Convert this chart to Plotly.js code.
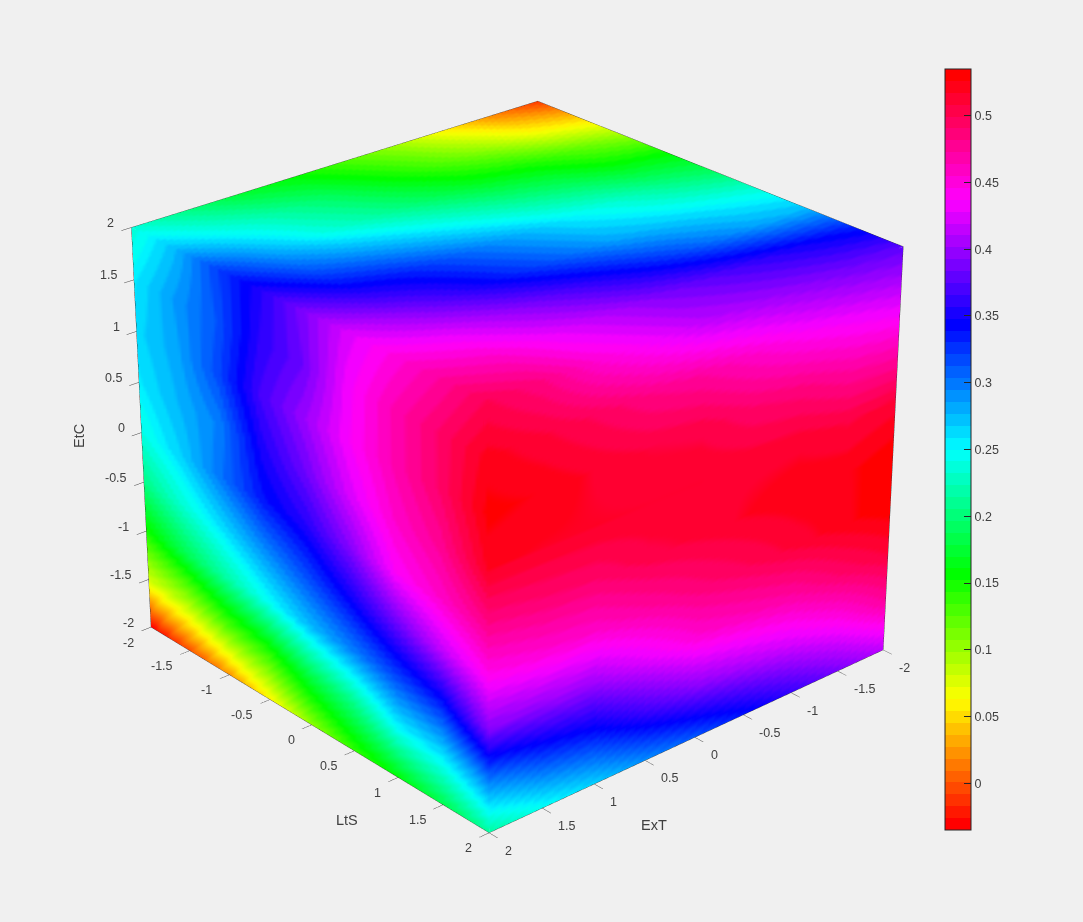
<!DOCTYPE html>
<html>
<head>
<meta charset="utf-8">
<script src="https://cdn.plot.ly/plotly-3.0.1.min.js"></script>
<style>
html,body{margin:0;padding:0;width:1083px;height:922px;overflow:hidden;background:#f0f0f0}
#wrap{position:absolute;left:0;top:0;width:1083px;height:922px;overflow:hidden}
#plot{position:absolute;left:0}
</style>
</head>
<body>
<div id="wrap"><div id="plot"></div></div>
<script>
const tickValues=[-2,-1.5,-1,-0.5,0,0.5,1,1.5,2];
const gridExT=[2,1.5,1,0.5,0,-0.5,-1,-1.5,-2];
const gridLtS=[-2,-1.5,-1,-0.5,0,0.5,1,1.5,2];
const gridEtC=[2,1.5,1,0.5,0,-0.5,-1,-1.5,-2];
const colorTicks=[0,0.05,0.1,0.15,0.2,0.25,0.3,0.35,0.4,0.45,0.5];
const colorMin=-0.035, colorMax=0.535;

// face ExT = 2: rows EtC 2..-2, columns LtS -2..2
const faceExT2=[
[.235,.27,.315,.35,.385,.42,.445,.47,.498],
[.255,.285,.31,.355,.38,.43,.463,.49,.519],
[.262,.28,.315,.365,.397,.433,.463,.49,.527],
[.255,.275,.295,.35,.381,.42,.453,.475,.517],
[.24,.265,.30,.335,.355,.39,.435,.455,.48],
[.205,.235,.262,.29,.316,.345,.378,.412,.44],
[.15,.185,.216,.245,.272,.294,.317,.335,.39],
[.08,.095,.127,.145,.183,.209,.25,.26,.295],
[-.03,0,.025,.06,.105,.14,.16,.185,.215]];
// face LtS = 2: rows EtC 2..-2, columns ExT 2..-2
const faceLtS2=[
[.498,.48,.45,.43,.41,.40,.39,.38,.375],
[.519,.508,.495,.48,.47,.455,.44,.43,.42],
[.527,.522,.513,.506,.503,.49,.483,.47,.465],
[.517,.515,.515,.514,.514,.512,.512,.505,.51],
[.48,.487,.49,.503,.509,.516,.521,.522,.53],
[.44,.45,.455,.47,.485,.497,.51,.521,.532],
[.39,.395,.40,.425,.45,.46,.47,.49,.507],
[.295,.32,.335,.365,.39,.405,.42,.44,.47],
[.215,.245,.265,.29,.31,.335,.36,.385,.41]];
// face EtC = 2: rows ExT 2..-2, columns LtS -2..2
const faceEtC2=[
[.235,.27,.315,.35,.385,.42,.445,.47,.498],
[.205,.24,.275,.31,.35,.39,.425,.455,.48],
[.175,.215,.24,.285,.33,.36,.40,.43,.45],
[.158,.19,.215,.26,.305,.33,.375,.41,.43],
[.13,.158,.19,.235,.28,.305,.35,.39,.41],
[.10,.128,.165,.21,.255,.28,.325,.375,.40],
[.06,.10,.15,.19,.235,.265,.30,.36,.39],
[.02,.065,.125,.165,.21,.25,.28,.345,.38],
[-.01,.045,.10,.155,.19,.235,.27,.33,.375]];

const edgeExT=[2,2,-2,-2,-2,null,2,2,-2,-2];
const edgeLtS=[-2,-2,-2,2,2,null,-2,2,2,2];
const edgeEtC=[-2,2,2,2,-2,null,-2,-2,-2,-2];

// page geometry
const H=3050, W=1083, topOffset=-1082;
const px=x=>x/W, py=y=>1-(y-topOffset)/H;

// stepped HSV colour map with 64 levels
function hsv(h){
  const i=Math.floor(h*6)%6,f=h*6-Math.floor(h*6),q=1-f,t=f;
  const c=[[1,t,0],[q,1,0],[0,1,t],[0,q,1],[t,0,1],[1,0,q]][i];
  return 'rgb('+c.map(v=>Math.round(v*255)).join(',')+')';
}
const N=64, colorscale=[];
for(let k=0;k<N;k++){
  const col=hsv(k/(N-1)>=1?0:k/(N-1));
  colorscale.push([k/N,col]);colorscale.push([(k+1)/N,col]);
}
const flat={ambient:1,diffuse:0,specular:0,roughness:1,fresnel:0};
function surf(x,y,z,c,extra){
  return Object.assign({type:'surface',x,y,z,surfacecolor:c,colorscale,cmin:colorMin,cmax:colorMax,
    showscale:false,lighting:flat,hoverinfo:'skip',
    contours:{x:{show:false},y:{show:false},z:{show:false}}},extra||{});
}
// plane position of each face; the inner copy sits just behind the seams
const planes=(p)=>({
 x1:gridEtC.map(()=>gridLtS.map(()=>p)),
 y1:gridEtC.map(()=>gridLtS.slice()),
 z1:gridEtC.map(v=>gridLtS.map(()=>v)),
 x2:gridEtC.map(()=>gridExT.slice()),
 y2:gridEtC.map(()=>gridExT.map(()=>p)),
 z2:gridEtC.map(v=>gridExT.map(()=>v)),
 x3:gridExT.map(v=>gridLtS.map(()=>v)),
 y3:gridExT.map(()=>gridLtS.slice()),
 z3:gridExT.map(()=>gridLtS.map(()=>p))
});
const outer=planes(2), inner=planes(1.96);

const textCol='#404040', fontFam='"Liberation Sans",Arial,sans-serif';
const traces=[
 surf(inner.x1,inner.y1,inner.z1,faceExT2),
 surf(inner.x2,inner.y2,inner.z2,faceLtS2),
 surf(inner.x3,inner.y3,inner.z3,faceEtC2),
 surf(outer.x1,outer.y1,outer.z1,faceExT2),
 surf(outer.x2,outer.y2,outer.z2,faceLtS2),
 surf(outer.x3,outer.y3,outer.z3,faceEtC2,{showscale:true,colorbar:{
   thickness:26,thicknessmode:'pixels',len:761,lenmode:'pixels',
   x:px(945),xanchor:'left',xpad:0,y:py(69),yanchor:'top',ypad:0,
   outlinecolor:'#262626',outlinewidth:1,
   tickmode:'array',tickvals:colorTicks,ticktext:colorTicks.map(String),
   ticks:'inside',ticklen:7,tickcolor:'#262626',tickwidth:1,
   tickfont:{family:fontFam,size:12.5,color:textCol},ticklabelposition:'outside'
 }}),
 {type:'scatter3d',mode:'lines',x:edgeExT,y:edgeLtS,z:edgeEtC,line:{color:'#404040',width:1},showlegend:false,hoverinfo:'skip'}
];
function axis(){
  return {range:[-2,2],autorange:false,tickmode:'array',tickvals:tickValues,
   showgrid:false,zeroline:false,showbackground:false,showspikes:false,showline:false,showticklabels:false,
   ticks:'outside',ticklen:10,tickcolor:'#404040',tickwidth:1,title:{text:''}};
}
const note=(t,x,y,a)=>({text:t,xref:'paper',yref:'paper',x:px(x),y:py(y),xanchor:'center',yanchor:'middle',
   showarrow:false,textangle:a||0,font:{family:fontFam,size:14.5,color:textCol}});
const label=(x,y,z,v,anchor,dx,dy)=>({x,y,z,text:String(v),showarrow:false,xanchor:anchor,yanchor:'middle',
   xshift:dx,yshift:dy,font:{family:fontFam,size:12.5,color:textCol}});
const sceneLabels=[
 ...gridExT.map(v=>label(v,2,-2,v,'left',14,-18)),
 ...gridLtS.map(v=>label(2,v,-2,v,'right',-15,-15.5)),
 ...gridEtC.map(v=>label(2,-2,v,v,'right',-15,4.5))
];
const layout={width:W,height:H,paper_bgcolor:'#f0f0f0',plot_bgcolor:'#f0f0f0',margin:{l:0,r:0,t:0,b:0},showlegend:false,
 scene:{domain:{x:[0,0.951],y:[0,1]},bgcolor:'#f0f0f0',
   aspectmode:'manual',aspectratio:{x:1.185,y:1.185,z:0.992},
   xaxis:axis(),yaxis:axis(),zaxis:axis(),annotations:sceneLabels,
   camera:{eye:{x:4.87,y:5.54,z:3.57},center:{x:0,y:0,z:0},up:{x:0,y:0,z:1},projection:{type:'perspective'}}},
 annotations:[note('LtS',347,820),note('ExT',654,825),note('EtC',79,436,-90)]
};
const el=document.getElementById('plot');
el.style.top=topOffset+'px';el.style.width=W+'px';el.style.height=H+'px';
Plotly.newPlot(el,traces,layout,{displayModeBar:false});
</script>
</body>
</html>
